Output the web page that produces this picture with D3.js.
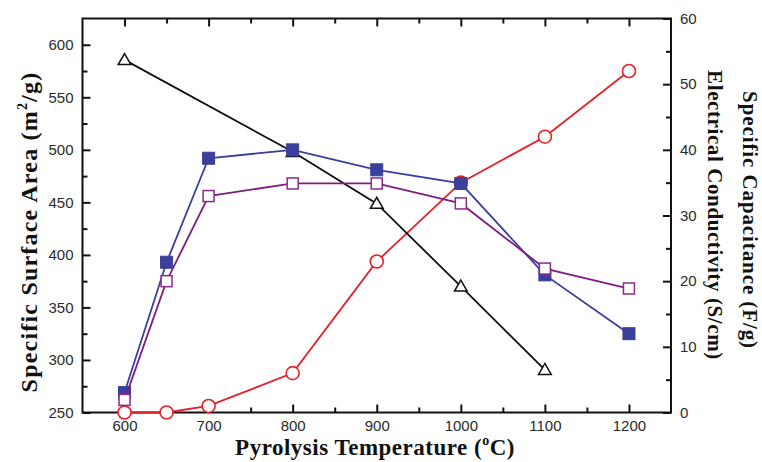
<!DOCTYPE html>
<html>
<head>
<meta charset="utf-8">
<script src="https://cdn.jsdelivr.net/npm/d3@7/dist/d3.min.js"></script>
<style>
  html, body { margin: 0; padding: 0; background: #fff; }
  svg { display: block; }
</style>
</head>
<body>
<svg id="chart" width="762" height="462"></svg>
<script>
// ---- data ----
const temperatures = [600, 650, 700, 800, 900, 1000, 1100, 1200];
const surfaceAreaFilled = [269, 393, 492, 500, 481, 468, 381, 325];   // left axis, filled squares
const surfaceAreaOpen   = [262, 375, 456, 468, 468, 449, 387, 368];   // left axis, open squares
const capacitanceTemps  = [600, 800, 900, 1000, 1100];
const capacitance       = [53.7, 39.7, 31.8, 19.2, 6.5];                // right axis, triangles
const conductivity      = [0, 0, 1, 6, 23, 35, 42, 52];                 // right axis, circles

const xMajorTicks = [600, 700, 800, 900, 1000, 1100, 1200];
const xMinorTicks = [650, 750, 850, 950, 1050, 1150];
const yLeftMajorTicks = [250, 300, 350, 400, 450, 500, 550, 600];
const yLeftMinorTicks = [275, 325, 375, 425, 475, 525, 575];
const yRightMajorTicks = [0, 10, 20, 30, 40, 50, 60];
const yRightMinorTicks = [5, 15, 25, 35, 45, 55];

const xTitle = "Pyrolysis Temperature";
const yLeftTitle = "Specific Surface Area";
const yRightTitle1 = "Electrical Conductivity  (S/cm)";
const yRightTitle2 = "Specific Capacitance (F/g)";

// ---- layout ----
const L = 82.5, R = 671, T = 18.5, B = 412.5;
const svg = d3.select("#chart");

const x = d3.scaleLinear().domain([550, 1250]).range([L, R]);
const yL = d3.scaleLinear().domain([250, 625]).range([B, T]);
const yR = d3.scaleLinear().domain([0, 60]).range([B, T]);

const tickFont = "'Liberation Sans', Arial, sans-serif";
const titleFont = "'Liberation Serif', 'Times New Roman', serif";

function styleAxis(g, showLabels) {
  g.select(".domain").remove();
  g.selectAll(".tick line").attr("stroke", "#111").attr("stroke-width", 2);
  g.selectAll(".tick text")
    .attr("font-family", tickFont).attr("font-size", 15).attr("fill", "#2a2a2a");
  if (!showLabels) g.selectAll(".tick text").remove();
}

// bottom
svg.append("g").attr("transform", `translate(0,${B})`)
  .call(d3.axisBottom(x).tickValues(xMajorTicks).tickSize(-8).tickPadding(8).tickFormat(d3.format("d")))
  .call(g => styleAxis(g, true));
svg.append("g").attr("transform", `translate(0,${B})`)
  .call(d3.axisBottom(x).tickValues(xMinorTicks).tickSize(-5))
  .call(g => styleAxis(g, false));
// top
svg.append("g").attr("transform", `translate(0,${T})`)
  .call(d3.axisTop(x).tickValues(xMajorTicks).tickSize(-8))
  .call(g => styleAxis(g, false));
svg.append("g").attr("transform", `translate(0,${T})`)
  .call(d3.axisTop(x).tickValues(xMinorTicks).tickSize(-5))
  .call(g => styleAxis(g, false));
// left
svg.append("g").attr("transform", `translate(${L},0)`)
  .call(d3.axisLeft(yL).tickValues(yLeftMajorTicks).tickSize(-8).tickPadding(9).tickFormat(d3.format("d")))
  .call(g => styleAxis(g, true));
svg.append("g").attr("transform", `translate(${L},0)`)
  .call(d3.axisLeft(yL).tickValues(yLeftMinorTicks).tickSize(-5))
  .call(g => styleAxis(g, false));
// right
svg.append("g").attr("transform", `translate(${R},0)`)
  .call(d3.axisRight(yR).tickValues(yRightMajorTicks).tickSize(-8).tickPadding(9).tickFormat(d3.format("d")))
  .call(g => styleAxis(g, true));
svg.append("g").attr("transform", `translate(${R},0)`)
  .call(d3.axisRight(yR).tickValues(yRightMinorTicks).tickSize(-5))
  .call(g => styleAxis(g, false));

// frame
svg.append("rect").attr("x", L).attr("y", T).attr("width", R - L).attr("height", B - T)
  .attr("fill", "none").attr("stroke", "#111").attr("stroke-width", 2);

// ---- series ----
const red = "#e5202a", blue = "#3a3f9c", purple = "#7e1f80", black = "#111";

function drawLine(xs, ys, yScale, color) {
  const pts = xs.map((t, i) => [x(t), yScale(ys[i])]);
  svg.append("path").attr("d", d3.line()(pts))
    .attr("fill", "none").attr("stroke", color).attr("stroke-width", 1.8);
  return pts;
}

// circles: conductivity
const cPts = drawLine(temperatures, conductivity, yR, red);
svg.append("g").selectAll("circle").data(cPts).join("circle")
  .attr("cx", d => d[0]).attr("cy", d => d[1]).attr("r", 6.5)
  .attr("fill", "#fff").attr("stroke", red).attr("stroke-width", 1.6);

// triangles: capacitance
const tPts = drawLine(capacitanceTemps, capacitance, yR, black);
const tri = d3.symbol().type(d3.symbolTriangle).size(70);
svg.append("g").selectAll("path").data(tPts).join("path")
  .attr("d", tri).attr("transform", d => `translate(${d[0]},${d[1] + 1})`)
  .attr("fill", "#fff").attr("stroke", black).attr("stroke-width", 1.5);

// filled squares
const fPts = drawLine(temperatures, surfaceAreaFilled, yL, blue);
svg.append("g").selectAll("rect").data(fPts).join("rect")
  .attr("x", d => d[0] - 6).attr("y", d => d[1] - 6).attr("width", 12).attr("height", 12)
  .attr("fill", blue).attr("stroke", blue).attr("stroke-width", 1);

// open squares
const oPts = drawLine(temperatures, surfaceAreaOpen, yL, purple);
svg.append("g").selectAll("rect").data(oPts).join("rect")
  .attr("x", d => d[0] - 5.5).attr("y", d => d[1] - 5.5).attr("width", 11).attr("height", 11)
  .attr("fill", "#fff").attr("stroke", "#8a2a8c").attr("stroke-width", 1.5);

// ---- titles ----
function titleText(transform, size, spacing) {
  return svg.append("text").attr("transform", transform)
    .attr("text-anchor", "middle").attr("font-family", titleFont)
    .attr("font-weight", "bold").attr("font-size", size)
    .attr("letter-spacing", spacing).attr("fill", "#111");
}

const xt = titleText("translate(375,455)", 23, 0.5);
xt.append("tspan").text(xTitle + "  (");
xt.append("tspan").attr("font-size", 14).attr("dy", -10).text("o");
xt.append("tspan").attr("dy", 10).text("C)");

const yt = titleText("translate(37,232) rotate(-90)", 24, 1.2);
yt.append("tspan").text(yLeftTitle + "  (m");
yt.append("tspan").attr("font-size", 14).attr("dy", -10).text("2");
yt.append("tspan").attr("dy", 10).text("/g)");

titleText("translate(708,215) rotate(90)", 21, 0.6).text(yRightTitle1);
titleText("translate(743,220) rotate(90)", 21, 0.9).text(yRightTitle2);
</script>
</body>
</html>
